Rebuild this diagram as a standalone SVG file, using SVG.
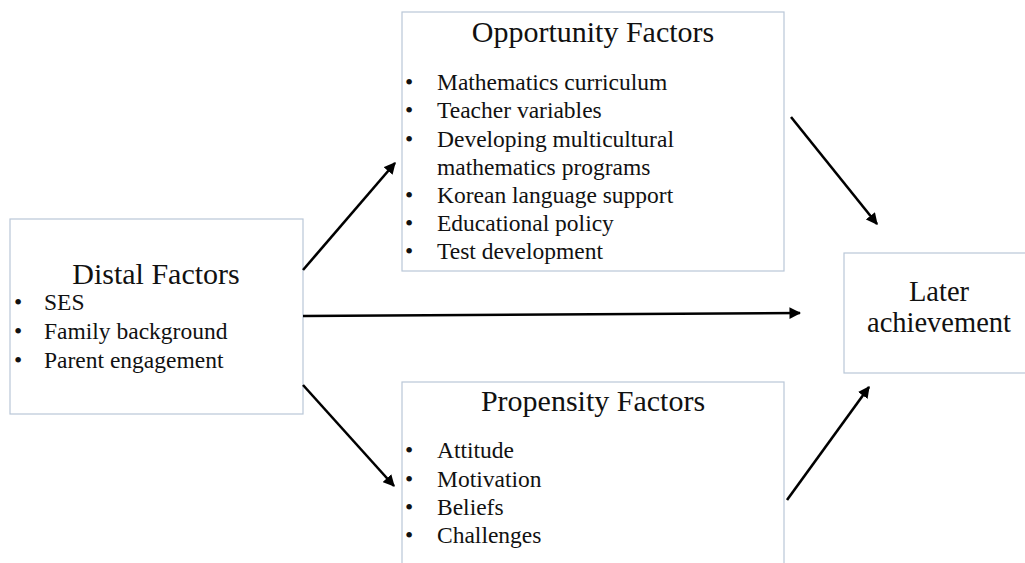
<svg xmlns="http://www.w3.org/2000/svg" width="1025" height="563" viewBox="0 0 1025 563">
<defs>
<style>
.box{fill:#fff;stroke:#b9c7d8;stroke-width:1.2}
.t{font-family:"Liberation Serif","Times New Roman",serif;fill:#111}
.title{font-size:30px;text-anchor:middle}
.title2{font-size:28.5px;text-anchor:middle}
.item{font-size:23.5px}
.conn line{stroke:#000;stroke-width:2.6;marker-end:url(#ah)}
</style>
<marker id="ah" viewBox="0 0 10 10" refX="9" refY="5" markerWidth="4.5" markerHeight="4.5" orient="auto" markerUnits="strokeWidth">
<path d="M0,0 L10,5 L0,10 z" fill="#000"/>
</marker>
</defs>
<rect width="1025" height="563" fill="#fff"/>
<g id="distal">
<rect class="box" x="10" y="219" width="293" height="195"/>
<text class="t title" x="156" y="284">Distal Factors</text>
<g class="t item">
<text x="14" y="310">•</text><text x="44" y="310">SES</text>
<text x="14" y="339">•</text><text x="44" y="339">Family background</text>
<text x="14" y="368">•</text><text x="44" y="368">Parent engagement</text>
</g>
</g>
<g id="opportunity">
<rect class="box" x="402" y="12" width="382" height="259"/>
<text class="t title" x="593" y="42">Opportunity Factors</text>
<g class="t item">
<text x="405" y="90">•</text><text x="437" y="90">Mathematics curriculum</text>
<text x="405" y="118">•</text><text x="437" y="118">Teacher variables</text>
<text x="405" y="147">•</text><text x="437" y="147">Developing multicultural</text>
<text x="437" y="175">mathematics programs</text>
<text x="405" y="203">•</text><text x="437" y="203">Korean language support</text>
<text x="405" y="231">•</text><text x="437" y="231">Educational policy</text>
<text x="405" y="259">•</text><text x="437" y="259">Test development</text>
</g>
</g>
<g id="propensity">
<rect class="box" x="402" y="382" width="382" height="200"/>
<text class="t title" x="593" y="411">Propensity Factors</text>
<g class="t item">
<text x="405" y="458">•</text><text x="437" y="458">Attitude</text>
<text x="405" y="487">•</text><text x="437" y="487">Motivation</text>
<text x="405" y="515">•</text><text x="437" y="515">Beliefs</text>
<text x="405" y="543">•</text><text x="437" y="543">Challenges</text>
</g>
</g>
<g id="later">
<rect class="box" x="844" y="253" width="200" height="120"/>
<text class="t title2" x="939" y="301">Later</text>
<text class="t title2" x="939" y="332">achievement</text>
</g>
<g class="conn" id="connectors">
<line x1="303" y1="270" x2="395" y2="163"/>
<line x1="303" y1="316" x2="800" y2="313"/>
<line x1="303" y1="385" x2="394" y2="486"/>
<line x1="791" y1="117" x2="877" y2="224"/>
<line x1="787" y1="500" x2="869" y2="387"/>
</g>
</svg>
